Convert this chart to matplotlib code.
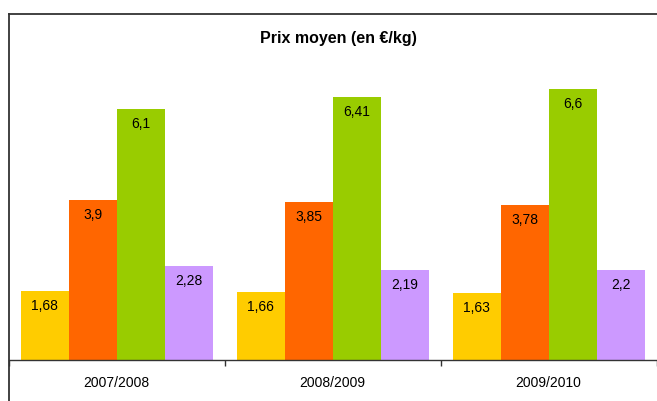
import matplotlib
matplotlib.use("Agg")
import matplotlib.pyplot as plt
from matplotlib.lines import Line2D
import numpy as np

plt.rcParams['font.family'] = ['Liberation Sans', 'DejaVu Sans']

title = "Prix moyen (en €/kg)"
categories = ["2007/2008", "2008/2009", "2009/2010"]
series_a = [1.68, 1.66, 1.63]
series_b = [3.9, 3.85, 3.78]
series_c = [6.1, 6.41, 6.6]
series_d = [2.28, 2.19, 2.2]
labels_a = ["1,68", "1,66", "1,63"]
labels_b = ["3,9", "3,85", "3,78"]
labels_c = ["6,1", "6,41", "6,6"]
labels_d = ["2,28", "2,19", "2,2"]
colors = ["#FFCC00", "#FF6600", "#99CC00", "#CC99FF"]

W, H = 657, 401
fig = plt.figure(figsize=(W / 100, H / 100), dpi=100)
ax = fig.add_axes([8.5 / W, (H - 360) / H, (656.7 - 8.5) / W, (360 - 72.5) / H])

x = np.arange(len(categories))
bw = 1 / 4.5
all_series = [series_a, series_b, series_c, series_d]
all_labels = [labels_a, labels_b, labels_c, labels_d]
for i, (vals, labs) in enumerate(zip(all_series, all_labels)):
    pos = x + (i - 1.5) * bw
    ax.bar(pos, vals, width=bw, color=colors[i], edgecolor='none')
    for px, v, lab in zip(pos, vals, labs):
        ax.annotate(lab, (px, v), xytext=(0, -15), textcoords='offset pixels',
                    ha='center', va='center', fontsize=10, color='black')

ax.set_xlim(-0.5, len(categories) - 0.5)
ax.set_ylim(0, 7)
ax.set_yticks([])
ax.set_xticks(x)
ax.set_xticklabels(categories, fontsize=10)
ax.tick_params(axis='x', which='major', length=0, pad=11.5)
ax.set_xticks(np.arange(-0.5, len(categories)), minor=True)
ax.tick_params(axis='x', which='minor', length=4, width=1, color='#333333', direction='out')
for s in ['top', 'right', 'left']:
    ax.spines[s].set_visible(False)
ax.spines['bottom'].set_color('#333333')
ax.spines['bottom'].set_linewidth(1)

fig.text(338 / W, 1 - 38 / H, title, ha='center', va='center', fontsize=11.5, fontweight='bold')

# chart frame (left and top edges visible)
fig.add_artist(Line2D([8.5 / W, 8.5 / W], [0, 1 - 14 / H], transform=fig.transFigure, color='#333333', lw=1.3))
fig.add_artist(Line2D([8.5 / W, 1], [1 - 14 / H, 1 - 14 / H], transform=fig.transFigure, color='#333333', lw=1.3))

fig.savefig("out.png", dpi=100)
